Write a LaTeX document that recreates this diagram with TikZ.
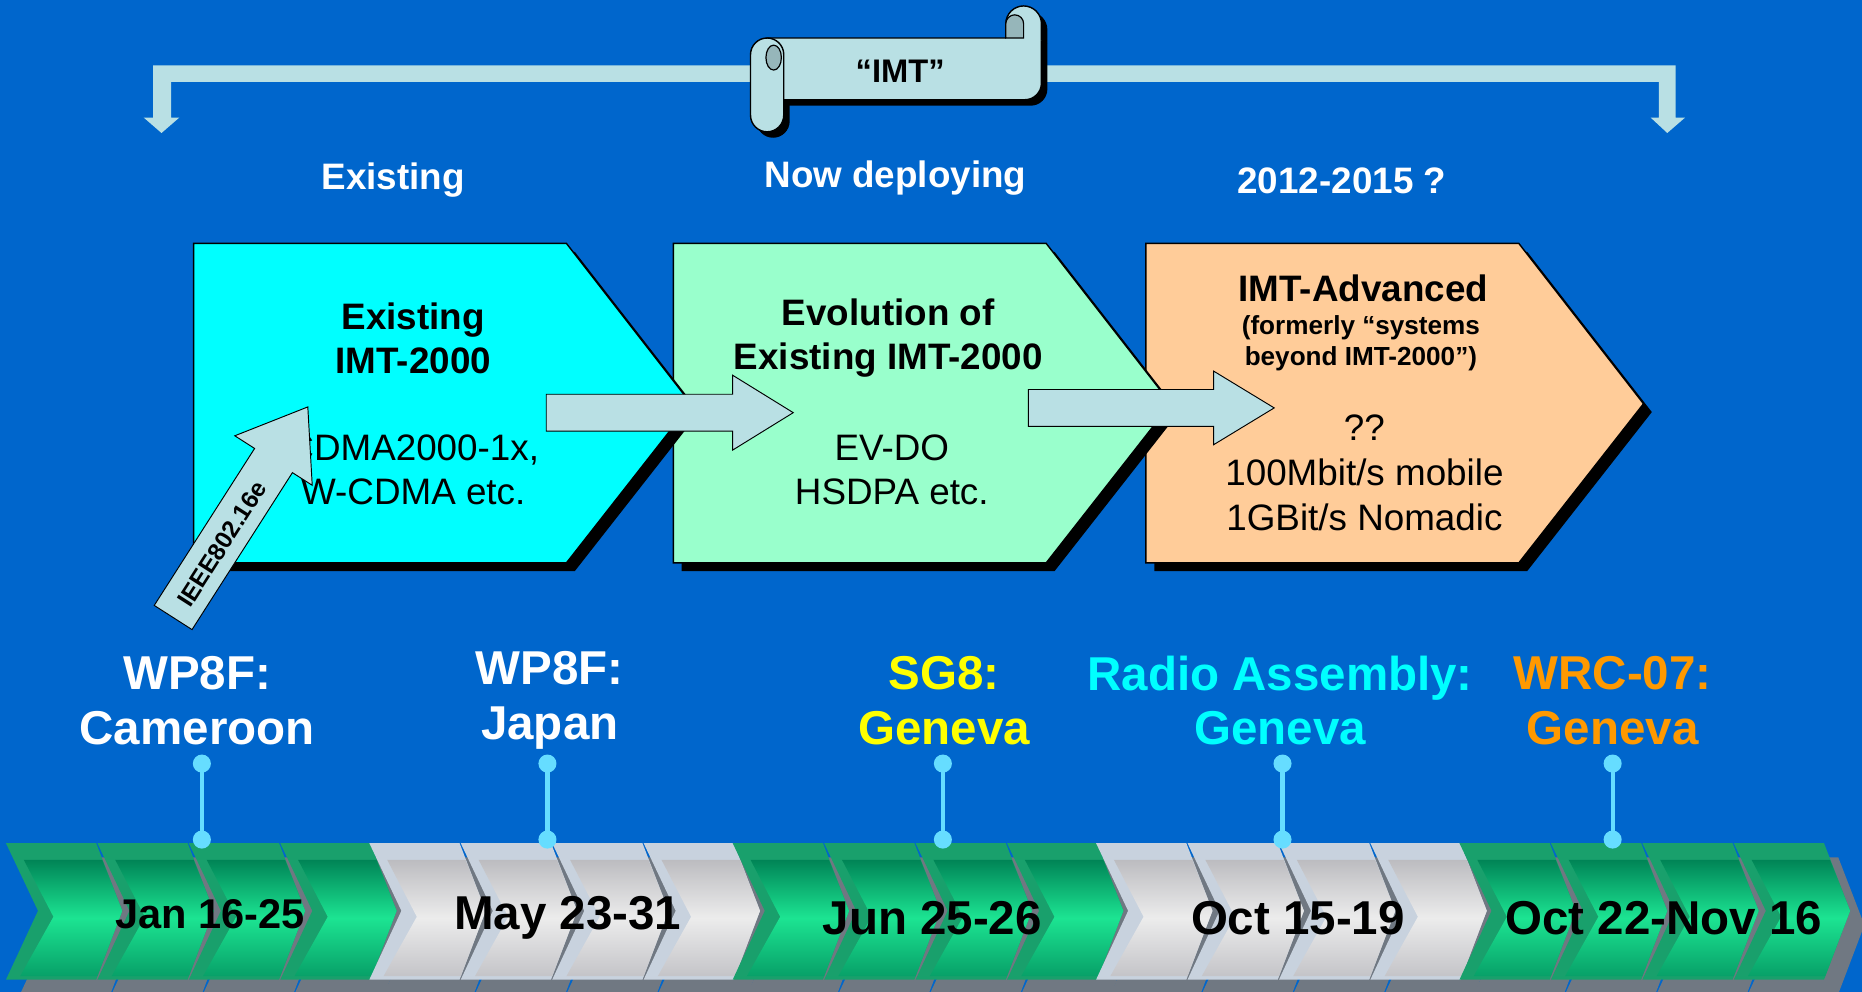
\documentclass[tikz,border=0pt]{standalone}
\usepackage{fontspec}
\setmainfont{Liberation Sans}
\usepackage{tikz}

\definecolor{bgblue}{RGB}{0,102,204}
\definecolor{pale}{RGB}{185,224,228}
\definecolor{paledark}{RGB}{150,182,186}
\definecolor{aqua}{RGB}{0,255,255}
\definecolor{mint}{RGB}{153,255,204}
\definecolor{peach}{RGB}{255,204,153}
\definecolor{pincol}{RGB}{102,221,255}
\definecolor{ylw}{RGB}{255,255,0}
\definecolor{orng}{RGB}{255,153,0}
\definecolor{greenrim}{RGB}{25,160,108}
\definecolor{greentop}{RGB}{0,132,86}
\definecolor{greenmid}{RGB}{28,228,146}
\definecolor{greenbot}{RGB}{8,160,104}
\definecolor{greyrim}{RGB}{200,210,222}
\definecolor{greytop}{RGB}{188,188,192}
\definecolor{greymid}{RGB}{236,236,236}
\definecolor{greybot}{RGB}{196,196,200}
\definecolor{chshadow}{RGB}{112,120,130}

\begin{document}
\begin{tikzpicture}[x=1pt,y=-1pt,
  box/.style={draw=black,line width=1.2pt},
  blockarrow/.style={fill=pale,draw=black,line width=0.8pt},
  scroll/.style={fill=pale,draw=black,line width=1.2pt},
  hdr/.style={font=\fontsize{31}{36}\selectfont\bfseries,text=white},
  boldtxt/.style={font=\fontsize{31}{37}\selectfont\bfseries,align=center},
  plaintxt/.style={font=\fontsize{31}{37}\selectfont,align=center},
  meet/.style={font=\fontsize{40}{46}\selectfont\bfseries,align=center},
  datetxt/.style={font=\fontsize{40}{46}\selectfont\bfseries},
  pin/.style={draw=pincol,line width=3.6pt},
  pinball/.style={fill=pincol}]
\useasboundingbox (0,0) rectangle (1568,835);
\fill[bgblue] (0,0) rectangle (1568,835);

% bracket over the three stages
\fill[pale] (129,55) -- (1411,55) -- (1411,99) -- (1419,99) -- (1404,112) -- (1390,99)
  -- (1397,99) -- (1397,69) -- (144,69) -- (144,99) -- (151,99) -- (136,112) -- (121,99)
  -- (129,99) -- cycle;

% scroll
\fill[black,shift={(5,5)}] (646,32) -- (877,32) -- (877,70) arc (0:90:14) -- (646,84) -- cycle;
\fill[black,shift={(5,5)}] (847,32) -- (847,20) arc (180:360:15) -- (877,32) -- cycle;
\fill[black,shift={(5,5)},rounded corners=14] (632,32) rectangle (660,111);
\filldraw[scroll] (646,32) -- (877,32) -- (877,70) arc (0:90:14) -- (646,84) -- cycle;
\fill[pale] (847,34) -- (847,20) arc (180:360:15) -- (877,34) -- cycle;
\draw[black,line width=1.2pt] (847,32) -- (847,20) arc (180:360:15) -- (877,34);
\filldraw[fill=paledark,draw=black,line width=1pt] (847,20) arc (180:360:7.5) -- (862,32) -- (847,32) -- cycle;
\filldraw[scroll,rounded corners=14] (632,32) rectangle (660,111);
\filldraw[fill=paledark,draw=black,line width=1pt] (651.5,48.5) ellipse (6.5 and 10.5);
\node[font=\fontsize{27.5}{30}\selectfont\bfseries] (imt) at (758,60) {“IMT”};

% stage headings
\node[hdr] (hexist) at (331,152) {Existing};
\node[hdr] (hnow) at (754,150) {Now deploying};
\node[hdr] (hnext) at (1130,152) {2012-2015 ?};

% stage boxes, right one first
\foreach \L/\col in {965/peach,567/mint,163/aqua} {
  \fill[black] (\L+7,212) -- ++(314,0) -- ++(105,135) -- ++(-105,134) -- ++(-314,0) -- cycle;
  \filldraw[fill=\col,box] (\L,205) -- ++(314,0) -- ++(105,135) -- ++(-105,134) -- ++(-314,0) -- cycle;
}

\node[boldtxt] (b1head) at (348,285) {Existing\\IMT-2000};
\node[plaintxt] (b1body) at (348,396) {CDMA2000-1x,\\W-CDMA etc.};
\node[boldtxt] (b2head) at (748,285) {Evolution of\\Existing IMT-2000};
\node[plaintxt] (b2body) at (751,396) {EV-DO\\HSDPA etc.};
\node[boldtxt] (b3head) at (1148,243) {IMT-Advanced};
\node[font=\fontsize{22}{26}\selectfont\bfseries,align=center] (b3note) at (1146,289)
  {(formerly “systems\\beyond IMT-2000”)};
\node[font=\fontsize{31}{38}\selectfont,align=center] (b3body) at (1149,398)
  {??\\100Mbit/s mobile\\1GBit/s Nomadic};

% arrows between the stages
\coordinate (go1) at (460,347.5);
\coordinate (go2) at (866,343.5);
\filldraw[blockarrow] (go1) ++(0,-15.5) -- ++(157,0) -- ++(0,-16) -- ++(51,31.5)
  -- ++(-51,31.5) -- ++(0,-16) -- ++(-157,0) -- cycle;
\filldraw[blockarrow] (go2) ++(0,-15.5) -- ++(156,0) -- ++(0,-15.5) -- ++(51,31)
  -- ++(-51,31) -- ++(0,-15.5) -- ++(-156,0) -- cycle;

% IEEE arrow
\begin{scope}[shift={(145.8,520)},rotate=57.4]
  \filldraw[blockarrow] (0,-18.9) -- (156.9,-18.9) -- (156.9,-38.7) -- (210.5,0)
    -- (156.9,38.7) -- (156.9,18.9) -- (0,18.9) -- cycle;
\end{scope}
\node[rotate=57.4,font=\fontsize{20.5}{24}\selectfont\bfseries] (ieee) at (187,458) {IEEE802.16e};

% timeline chevrons
\foreach \s/\rim/\ctop/\cmid/\cbot in {0/greenrim/greentop/greenmid/greenbot,
    1/greyrim/greytop/greymid/greybot,2/greenrim/greentop/greenmid/greenbot,
    3/greyrim/greytop/greymid/greybot,4/greenrim/greentop/greenmid/greenbot} {
  \foreach \c in {0,1,2,3} {
    \pgfmathsetmacro\xo{5+306*\s+77*\c}
    \fill[chshadow] (\xo+12,722) -- ++(76,0) -- ++(22,57) -- ++(-22,58) -- ++(-76,0) -- ++(27,-58) -- cycle;
    \fill[fill=\rim] (\xo,710) -- ++(76,0) -- ++(22,57) -- ++(-22,58) -- ++(-76,0) -- ++(27,-58) -- cycle;
    \path[top color=\ctop,bottom color=\cbot,middle color=\cmid] (\xo+15,724) -- (\xo+81,724)
      -- (\xo+98,767) -- (\xo+77,822) -- (\xo+12,822) -- (\xo+40,772) -- cycle;
  }
}

% meeting pins
\foreach \px [count=\i] in {170,461,794,1080,1358} {
  \coordinate (pt\i) at (\px,643);
  \coordinate (pb\i) at (\px,707);
  \draw[pin] (pt\i) -- (pb\i);
  \fill[pinball] (pt\i) circle (7.6);
  \fill[pinball] (pb\i) circle (7.6);
}

% meetings
\node[meet,text=white] (m1) at (166,590) {WP8F:\\Cameroon};
\node[meet,text=white] (m2) at (463,590) {WP8F:\\Japan};
\node[meet,text=ylw] (m3) at (795,590) {SG8:\\Geneva};
\node[meet,text=aqua] (m4) at (1078,590) {Radio Assembly:\\Geneva};
\node[meet,text=orng] (m5) at (1358,590) {WRC-07:\\Geneva};

% dates
\node[font=\fontsize{35}{40}\selectfont\bfseries] (d1) at (177,770) {Jan 16-25};
\node[datetxt] (d2) at (478,773) {May 23-31};
\node[datetxt] (d3) at (785,773) {Jun 25-26};
\node[datetxt] (d4) at (1093,773) {Oct 15-19};
\node[datetxt] (d5) at (1401,773) {Oct 22-Nov 16};
\end{tikzpicture}
\end{document}
